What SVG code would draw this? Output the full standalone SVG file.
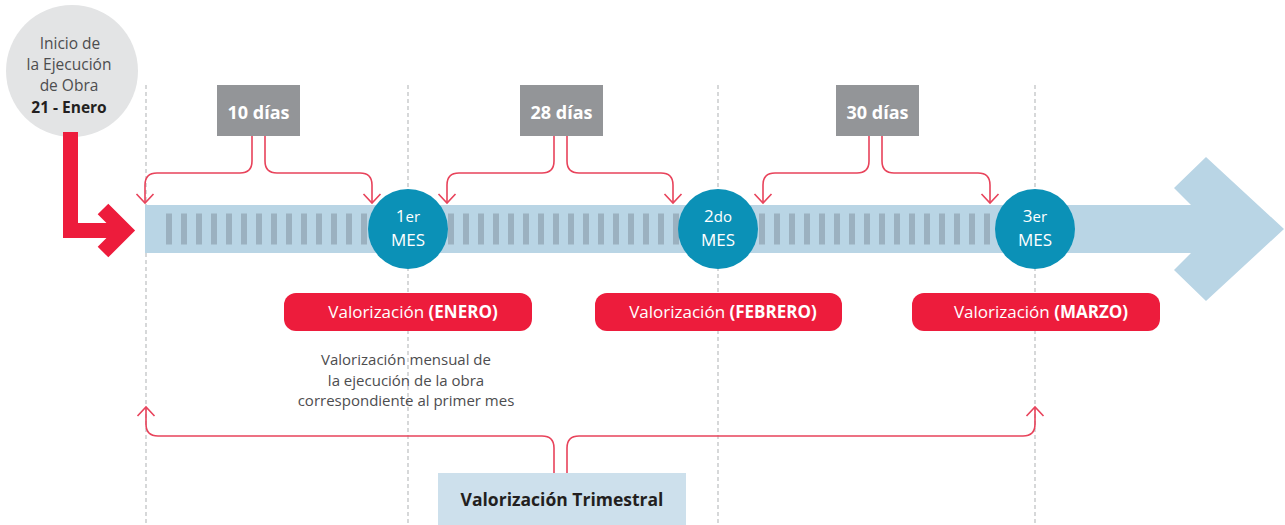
<svg xmlns="http://www.w3.org/2000/svg" width="1285" height="525" viewBox="0 0 1285 525">
<defs>
<style>
.t{font-family:"Open Sans","Liberation Sans",sans-serif}
.guide{stroke:#bcbec0;stroke-width:1.2;stroke-dasharray:4 3;fill:none}
.con{stroke:#e8435b;stroke-width:1.6;fill:none}
.tick{stroke:#9bb1c0;stroke-width:31;stroke-dasharray:6 9}
.gbox{fill:#939598}
.gtxt{fill:#fff;font-size:18px;font-weight:700;text-anchor:middle}
.mes{fill:#0b91b7}
.mtxt{fill:#fff;font-size:17px;text-anchor:middle}
.pill{fill:#ed1c3c}
.ptxt{fill:#fff;font-size:17px;text-anchor:middle}
</style>
<marker id="ah" markerUnits="userSpaceOnUse" markerWidth="20" markerHeight="20" viewBox="-10 -10 20 20" refX="0" refY="0" orient="auto">
<path d="M-9,-8.5 L0,0 L-9,8.5" fill="none" stroke="#e8435b" stroke-width="1.6"/>
</marker>
</defs>
<rect width="1285" height="525" fill="#fff"/>
<g id="guides">
<line class="guide" x1="146" y1="85" x2="146" y2="525"/>
<line class="guide" x1="408" y1="85" x2="408" y2="525"/>
<line class="guide" x1="718" y1="85" x2="718" y2="525"/>
<line class="guide" x1="1035" y1="85" x2="1035" y2="525"/>
</g>
<g id="timeline">
<polygon points="145,205 1191,205 1174,188 1206,157 1284,229 1206,301 1174,270 1191,253 145,253" fill="#b9d5e5"/>
<line class="tick" x1="166" y1="229" x2="372" y2="229"/>
<line class="tick" x1="448" y1="229" x2="680" y2="229"/>
<line class="tick" x1="759" y1="229" x2="992" y2="229"/>
</g>
<g id="start">
<circle cx="72" cy="71" r="66" fill="#e3e4e5"/>
<g class="t" font-size="15.5" fill="#4d4d4f" text-anchor="middle">
<text x="70" y="49">Inicio de</text>
<text x="69" y="70">la Ejecución</text>
<text x="69" y="91">de Obra</text>
<text x="69" y="113" font-weight="700" fill="#231f20">21 - Enero</text>
</g>
</g>
<g id="start-arrow" fill="none" stroke="#ed1c3c" stroke-width="15" stroke-linejoin="miter" stroke-miterlimit="10">
<path d="M70.5,132 V230.5 H124"/>
<path d="M103,209 L124.5,230.5 L103,252"/>
</g>
<g id="connectors">
<path class="con" marker-end="url(#ah)" d="M252,136 V161 Q252,173 240,173 H157 Q145,173 145,185 V203"/>
<path class="con" marker-end="url(#ah)" d="M265,136 V161 Q265,173 277,173 H360 Q372,173 372,185 V203"/>
<path class="con" marker-end="url(#ah)" d="M554,136 V161 Q554,173 542,173 H459 Q447,173 447,185 V203"/>
<path class="con" marker-end="url(#ah)" d="M567,136 V161 Q567,173 579,173 H661 Q673,173 673,185 V203"/>
<path class="con" marker-end="url(#ah)" d="M869,136 V161 Q869,173 857,173 H775 Q763,173 763,185 V203"/>
<path class="con" marker-end="url(#ah)" d="M882,136 V161 Q882,173 894,173 H978 Q990,173 990,185 V203"/>
<path class="con" marker-end="url(#ah)" d="M554,473 V448 Q554,436 542,436 H158 Q146,436 146,424 V407"/>
<path class="con" marker-end="url(#ah)" d="M567,473 V448 Q567,436 579,436 H1023 Q1035,436 1035,424 V407"/>
</g>
<g id="d10">
<rect class="gbox" x="217" y="85" width="83" height="51"/>
<text class="t gtxt" x="258.5" y="119">10 días</text>
</g>
<g id="d28">
<rect class="gbox" x="520" y="85" width="83" height="51"/>
<text class="t gtxt" x="561.5" y="119">28 días</text>
</g>
<g id="d30">
<rect class="gbox" x="836" y="85" width="83" height="51"/>
<text class="t gtxt" x="877.5" y="119">30 días</text>
</g>
<g id="mes1">
<circle class="mes" cx="408" cy="229" r="40"/>
<text class="t mtxt" x="408" y="222">1<tspan font-size="15">er</tspan></text>
<text class="t mtxt" x="408" y="246">MES</text>
</g>
<g id="mes2">
<circle class="mes" cx="718" cy="229" r="40"/>
<text class="t mtxt" x="718" y="222">2<tspan font-size="15">do</tspan></text>
<text class="t mtxt" x="718" y="246">MES</text>
</g>
<g id="mes3">
<circle class="mes" cx="1035" cy="229" r="40"/>
<text class="t mtxt" x="1035" y="222">3<tspan font-size="15">er</tspan></text>
<text class="t mtxt" x="1035" y="246">MES</text>
</g>
<g id="v-enero">
<rect class="pill" x="284" y="293" width="248" height="38" rx="12"/>
<text class="t ptxt" x="413" y="318">Valorización <tspan font-weight="700">(ENERO)</tspan></text>
</g>
<g id="v-febrero">
<rect class="pill" x="595" y="293" width="247" height="38" rx="12"/>
<text class="t ptxt" x="723" y="318">Valorización <tspan font-weight="700">(FEBRERO)</tspan></text>
</g>
<g id="v-marzo">
<rect class="pill" x="912" y="293" width="248" height="38" rx="12"/>
<text class="t ptxt" x="1041" y="318">Valorización <tspan font-weight="700">(MARZO)</tspan></text>
</g>
<g id="desc" class="t" font-size="15" fill="#4d4d4f" text-anchor="middle">
<text x="406" y="365">Valorización mensual de</text>
<text x="406" y="386">la ejecución de la obra</text>
<text x="406" y="406">correspondiente al primer mes</text>
</g>
<g id="trimestral">
<rect x="438" y="473" width="248" height="52" fill="#cde0ec"/>
<text class="t" x="562" y="506" font-size="17.5" font-weight="700" fill="#231f20" text-anchor="middle">Valorización Trimestral</text>
</g>
</svg>
